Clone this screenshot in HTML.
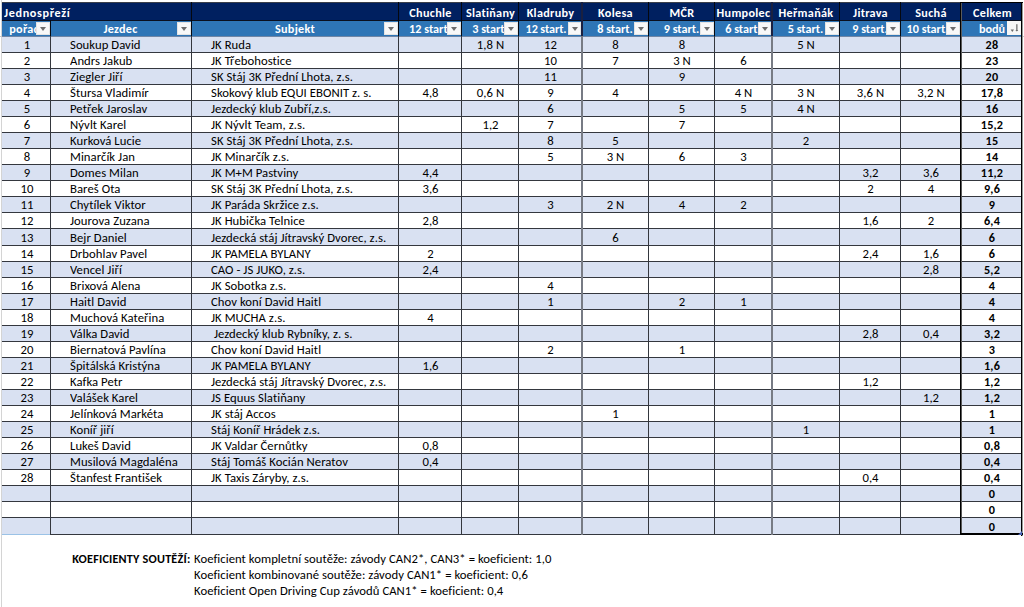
<!DOCTYPE html>
<html lang="cs"><head><meta charset="utf-8"><title>Jednospřeží</title>
<style>
*{margin:0;padding:0;box-sizing:border-box}
html,body{width:1024px;height:607px;overflow:hidden;background:#fff}
#p{position:relative;width:1024px;height:607px;overflow:hidden;background:#fff;font-family:Carlito,"Liberation Sans",Arial,sans-serif;font-size:12.7px;letter-spacing:0.05px;color:#000;font-variant-ligatures:none;font-feature-settings:"liga" 0,"clig" 0}
#p div{position:absolute}
.t{white-space:nowrap;overflow:hidden;line-height:16px;height:18px;padding-top:1px}
.c{text-align:center;padding-left:2px}
.b{font-weight:bold;font-size:12.2px;letter-spacing:0.2px}
.w{color:#fff;letter-spacing:0.3px}
.hl{height:1px;background:#34373e}
.vl{width:1px;background:#34373e}
#p.nc{font-family:"Liberation Sans",Arial,sans-serif;font-size:11.25px}
#p.nc .b{font-size:10.6px !important}
.dd{width:14px;height:13px;background:#f8f8f8;border:1px solid #e4e4e4}
.dd::after{content:"";position:absolute;left:3px;top:4px;border-left:3.5px solid transparent;border-right:3.5px solid transparent;border-top:4px solid #6d6d6d}
</style></head><body><div id="p">

<div style="left:1px;top:0;width:1px;height:607px;background:#d4d4d4"></div>
<div style="left:0;top:36px;width:2px;height:1px;background:#c8c8c8"></div>
<div style="left:1022px;top:36px;width:2px;height:1px;background:#c8c8c8"></div>
<div style="left:2px;top:2px;width:1020px;height:1px;background:#3a3f4a"></div>
<div style="left:2px;top:3px;width:1020px;height:17px;background:#002060"></div>
<div style="left:2px;top:20px;width:1020px;height:1px;background:#0a0f1e"></div>
<div style="left:2px;top:21px;width:1020px;height:15px;background:#2E75B6"></div>
<div style="left:2px;top:36px;width:1020px;height:16px;background:#D9E1F2"></div>
<div style="left:2px;top:52px;width:1020px;height:16px;background:#fff"></div>
<div style="left:2px;top:68px;width:1020px;height:16px;background:#D9E1F2"></div>
<div style="left:2px;top:84px;width:1020px;height:16px;background:#fff"></div>
<div style="left:2px;top:100px;width:1020px;height:16px;background:#D9E1F2"></div>
<div style="left:2px;top:116px;width:1020px;height:16px;background:#fff"></div>
<div style="left:2px;top:132px;width:1020px;height:16px;background:#D9E1F2"></div>
<div style="left:2px;top:148px;width:1020px;height:16px;background:#fff"></div>
<div style="left:2px;top:164px;width:1020px;height:16px;background:#D9E1F2"></div>
<div style="left:2px;top:180px;width:1020px;height:16px;background:#fff"></div>
<div style="left:2px;top:196px;width:1020px;height:16px;background:#D9E1F2"></div>
<div style="left:2px;top:212px;width:1020px;height:16px;background:#fff"></div>
<div style="left:2px;top:228px;width:1020px;height:17px;background:#D9E1F2"></div>
<div style="left:2px;top:245px;width:1020px;height:16px;background:#fff"></div>
<div style="left:2px;top:261px;width:1020px;height:16px;background:#D9E1F2"></div>
<div style="left:2px;top:277px;width:1020px;height:16px;background:#fff"></div>
<div style="left:2px;top:293px;width:1020px;height:16px;background:#D9E1F2"></div>
<div style="left:2px;top:309px;width:1020px;height:16px;background:#fff"></div>
<div style="left:2px;top:325px;width:1020px;height:16px;background:#D9E1F2"></div>
<div style="left:2px;top:341px;width:1020px;height:16px;background:#fff"></div>
<div style="left:2px;top:357px;width:1020px;height:16px;background:#D9E1F2"></div>
<div style="left:2px;top:373px;width:1020px;height:16px;background:#fff"></div>
<div style="left:2px;top:389px;width:1020px;height:16px;background:#D9E1F2"></div>
<div style="left:2px;top:405px;width:1020px;height:16px;background:#fff"></div>
<div style="left:2px;top:421px;width:1020px;height:16px;background:#D9E1F2"></div>
<div style="left:2px;top:437px;width:1020px;height:16px;background:#fff"></div>
<div style="left:2px;top:453px;width:1020px;height:16px;background:#D9E1F2"></div>
<div style="left:2px;top:469px;width:1020px;height:16px;background:#fff"></div>
<div style="left:2px;top:485px;width:1020px;height:16px;background:#D9E1F2"></div>
<div style="left:2px;top:501px;width:1020px;height:16px;background:#fff"></div>
<div style="left:2px;top:517px;width:1020px;height:17px;background:#D9E1F2"></div>
<div style="left:2px;top:36px;width:1020px;height:1px;background:#6f86a6"></div>
<div class="hl" style="left:2px;top:52px;width:1020px"></div>
<div class="hl" style="left:2px;top:68px;width:1020px"></div>
<div class="hl" style="left:2px;top:84px;width:1020px"></div>
<div class="hl" style="left:2px;top:100px;width:1020px"></div>
<div class="hl" style="left:2px;top:116px;width:1020px"></div>
<div class="hl" style="left:2px;top:132px;width:1020px"></div>
<div class="hl" style="left:2px;top:148px;width:1020px"></div>
<div class="hl" style="left:2px;top:164px;width:1020px"></div>
<div class="hl" style="left:2px;top:180px;width:1020px"></div>
<div class="hl" style="left:2px;top:196px;width:1020px"></div>
<div class="hl" style="left:2px;top:212px;width:1020px"></div>
<div class="hl" style="left:2px;top:228px;width:1020px"></div>
<div class="hl" style="left:2px;top:245px;width:1020px"></div>
<div class="hl" style="left:2px;top:261px;width:1020px"></div>
<div class="hl" style="left:2px;top:277px;width:1020px"></div>
<div class="hl" style="left:2px;top:293px;width:1020px"></div>
<div class="hl" style="left:2px;top:309px;width:1020px"></div>
<div class="hl" style="left:2px;top:325px;width:1020px"></div>
<div class="hl" style="left:2px;top:341px;width:1020px"></div>
<div class="hl" style="left:2px;top:357px;width:1020px"></div>
<div class="hl" style="left:2px;top:373px;width:1020px"></div>
<div class="hl" style="left:2px;top:389px;width:1020px"></div>
<div class="hl" style="left:2px;top:405px;width:1020px"></div>
<div class="hl" style="left:2px;top:421px;width:1020px"></div>
<div class="hl" style="left:2px;top:437px;width:1020px"></div>
<div class="hl" style="left:2px;top:453px;width:1020px"></div>
<div class="hl" style="left:2px;top:469px;width:1020px"></div>
<div class="hl" style="left:2px;top:485px;width:1020px"></div>
<div class="hl" style="left:2px;top:501px;width:1020px"></div>
<div class="hl" style="left:2px;top:517px;width:1020px"></div>
<div style="left:2px;top:534px;width:48px;height:1px;background:#9BC2E6"></div>
<div class="hl" style="left:50px;top:534px;width:972px"></div>
<div class="vl" style="left:50px;top:20px;height:515px"></div>
<div style="left:50px;top:20px;width:1px;height:16px;background:#05080f"></div>
<div class="vl" style="left:191px;top:2px;height:533px"></div>
<div style="left:191px;top:2px;width:1px;height:34px;background:#05080f"></div>
<div class="vl" style="left:398px;top:2px;height:533px"></div>
<div style="left:398px;top:2px;width:1px;height:34px;background:#05080f"></div>
<div class="vl" style="left:461px;top:2px;height:533px"></div>
<div style="left:461px;top:2px;width:1px;height:34px;background:#05080f"></div>
<div class="vl" style="left:518px;top:2px;height:533px"></div>
<div style="left:518px;top:2px;width:1px;height:34px;background:#05080f"></div>
<div style="left:581px;top:2px;width:2px;height:533px;background:#777b84"></div>
<div style="left:581px;top:2px;width:2px;height:34px;background:#1a2040"></div>
<div class="vl" style="left:648px;top:2px;height:533px"></div>
<div style="left:648px;top:2px;width:1px;height:34px;background:#05080f"></div>
<div class="vl" style="left:714px;top:2px;height:533px"></div>
<div style="left:714px;top:2px;width:1px;height:34px;background:#05080f"></div>
<div style="left:771px;top:2px;width:2px;height:533px;background:#777b84"></div>
<div style="left:771px;top:2px;width:2px;height:34px;background:#1a2040"></div>
<div class="vl" style="left:839px;top:2px;height:533px"></div>
<div style="left:839px;top:2px;width:1px;height:34px;background:#05080f"></div>
<div class="vl" style="left:900px;top:2px;height:533px"></div>
<div style="left:900px;top:2px;width:1px;height:34px;background:#05080f"></div>
<div class="t b w" style="left:4px;top:3px;width:180px;font-size:12.2px;letter-spacing:0.65px;line-height:17px;height:17px;padding-top:1px">Jednospřeží</div>
<div class="t b w c" style="left:398px;top:3px;width:63px;line-height:17px;height:17px">Chuchle</div>
<div class="t b w c" style="left:461px;top:3px;width:57px;line-height:17px;height:17px">Slatiňany</div>
<div class="t b w c" style="left:518px;top:3px;width:63px;line-height:17px;height:17px">Kladruby</div>
<div class="t b w c" style="left:581px;top:3px;width:67px;line-height:17px;height:17px">Kolesa</div>
<div class="t b w c" style="left:648px;top:3px;width:66px;line-height:17px;height:17px">MČR</div>
<div class="t b w c" style="left:714px;top:3px;width:57px;line-height:17px;height:17px">Humpolec</div>
<div class="t b w c" style="left:771px;top:3px;width:68px;line-height:17px;height:17px">Heřmaňák</div>
<div class="t b w c" style="left:839px;top:3px;width:61px;line-height:17px;height:17px">Jitrava</div>
<div class="t b w c" style="left:900px;top:3px;width:60px;line-height:17px;height:17px">Suchá</div>
<div class="t b w c" style="left:961px;top:3px;width:61px;line-height:17px;height:17px">Celkem</div>
<div class="t b w c" style="left:1.5px;top:20px;width:48px;line-height:16px;">pořadí</div>
<div class="t b w c" style="left:49px;top:20px;width:141px;line-height:16px;">Jezdec</div>
<div class="t b w c" style="left:190.5px;top:20px;width:207px;line-height:16px;">Subjekt</div>
<div class="t b w c" style="left:397.5px;top:20px;width:63px;line-height:16px;letter-spacing:0;">12 start.</div>
<div class="t b w c" style="left:460.5px;top:20px;width:57px;line-height:16px;letter-spacing:0;">3 start.</div>
<div class="t b w c" style="left:513.5px;top:20px;width:63px;line-height:16px;letter-spacing:-0.1px;">12 start.</div>
<div class="t b w c" style="left:580.5px;top:20px;width:67px;line-height:16px;letter-spacing:0;">8 start.</div>
<div class="t b w c" style="left:647.5px;top:20px;width:66px;line-height:16px;letter-spacing:0;">9 start.</div>
<div class="t b w c" style="left:713.5px;top:20px;width:57px;line-height:16px;letter-spacing:0;">6 start.</div>
<div class="t b w c" style="left:770.5px;top:20px;width:68px;line-height:16px;letter-spacing:0;">5 start.</div>
<div class="t b w c" style="left:838.5px;top:20px;width:61px;line-height:16px;letter-spacing:0;">9 start.</div>
<div class="t b w c" style="left:896.5px;top:20px;width:60px;line-height:16px;letter-spacing:0;">10 start.</div>
<div class="t b w c" style="left:960.5px;top:20px;width:61px;line-height:16px;letter-spacing:0;">bodů</div>
<div class="dd" style="left:36px;top:22px"></div>
<div class="dd" style="left:177px;top:22px"></div>
<div class="dd" style="left:384px;top:22px"></div>
<div class="dd" style="left:447px;top:22px"></div>
<div class="dd" style="left:504px;top:22px"></div>
<div class="dd" style="left:568px;top:22px;width:13px"></div>
<div class="dd" style="left:634px;top:22px"></div>
<div class="dd" style="left:700px;top:22px"></div>
<div class="dd" style="left:758px;top:22px;width:13px"></div>
<div class="dd" style="left:825px;top:22px"></div>
<div class="dd" style="left:886px;top:22px"></div>
<div class="dd" style="left:946px;top:22px"></div>
<div class="dd2" style="left:1007px;top:21px;width:14px;height:14px;background:#f6f6f6"><svg width="14" height="14" viewBox="0 0 14 14" style="position:absolute;left:0;top:0"><path d="M3.6 8.6 L7 8.6 L5.3 11 Z" fill="#6b6b6b"/><rect x="9.2" y="3.2" width="1.3" height="6.6" fill="#707070"/><path d="M8.4 9 L11.3 9 L9.85 10.6 Z" fill="#6b6b6b"/></svg></div>
<div class="t c" style="left:2px;top:36px;width:48px">1</div>
<div class="t" style="left:70px;top:36px;width:120px">Soukup David</div>
<div class="t" style="left:211px;top:36px;width:186px">JK Ruda</div>
<div class="t c" style="left:461px;top:36px;width:57px">1,8 N</div>
<div class="t c" style="left:518px;top:36px;width:63px">12</div>
<div class="t c" style="left:581px;top:36px;width:67px">8</div>
<div class="t c" style="left:648px;top:36px;width:66px">8</div>
<div class="t c" style="left:771px;top:36px;width:68px">5 N</div>
<div class="t c b" style="left:961px;top:36px;width:60px">28</div>
<div class="t c" style="left:2px;top:52px;width:48px">2</div>
<div class="t" style="left:70px;top:52px;width:120px">Andrs Jakub</div>
<div class="t" style="left:211px;top:52px;width:186px">JK Třebohostice</div>
<div class="t c" style="left:518px;top:52px;width:63px">10</div>
<div class="t c" style="left:581px;top:52px;width:67px">7</div>
<div class="t c" style="left:648px;top:52px;width:66px">3 N</div>
<div class="t c" style="left:714px;top:52px;width:57px">6</div>
<div class="t c b" style="left:961px;top:52px;width:60px">23</div>
<div class="t c" style="left:2px;top:68px;width:48px">3</div>
<div class="t" style="left:70px;top:68px;width:120px">Ziegler Jiří</div>
<div class="t" style="left:211px;top:68px;width:186px">SK Stáj 3K Přední Lhota, z.s.</div>
<div class="t c" style="left:518px;top:68px;width:63px">11</div>
<div class="t c" style="left:648px;top:68px;width:66px">9</div>
<div class="t c b" style="left:961px;top:68px;width:60px">20</div>
<div class="t c" style="left:2px;top:84px;width:48px">4</div>
<div class="t" style="left:70px;top:84px;width:120px">Štursa Vladimír</div>
<div class="t" style="left:211px;top:84px;width:186px">Skokový klub EQUI EBONIT z. s.</div>
<div class="t c" style="left:398px;top:84px;width:63px">4,8</div>
<div class="t c" style="left:461px;top:84px;width:57px">0,6 N</div>
<div class="t c" style="left:518px;top:84px;width:63px">9</div>
<div class="t c" style="left:581px;top:84px;width:67px">4</div>
<div class="t c" style="left:714px;top:84px;width:57px">4 N</div>
<div class="t c" style="left:771px;top:84px;width:68px">3 N</div>
<div class="t c" style="left:839px;top:84px;width:61px">3,6 N</div>
<div class="t c" style="left:900px;top:84px;width:60px">3,2 N</div>
<div class="t c b" style="left:961px;top:84px;width:60px">17,8</div>
<div class="t c" style="left:2px;top:100px;width:48px">5</div>
<div class="t" style="left:70px;top:100px;width:120px">Petřek Jaroslav</div>
<div class="t" style="left:211px;top:100px;width:186px">Jezdecký klub Zubří,z.s.</div>
<div class="t c" style="left:518px;top:100px;width:63px">6</div>
<div class="t c" style="left:648px;top:100px;width:66px">5</div>
<div class="t c" style="left:714px;top:100px;width:57px">5</div>
<div class="t c" style="left:771px;top:100px;width:68px">4 N</div>
<div class="t c b" style="left:961px;top:100px;width:60px">16</div>
<div class="t c" style="left:2px;top:116px;width:48px">6</div>
<div class="t" style="left:70px;top:116px;width:120px">Nývlt Karel</div>
<div class="t" style="left:211px;top:116px;width:186px">JK Nývlt Team, z.s.</div>
<div class="t c" style="left:461px;top:116px;width:57px">1,2</div>
<div class="t c" style="left:518px;top:116px;width:63px">7</div>
<div class="t c" style="left:648px;top:116px;width:66px">7</div>
<div class="t c b" style="left:961px;top:116px;width:60px">15,2</div>
<div class="t c" style="left:2px;top:132px;width:48px">7</div>
<div class="t" style="left:70px;top:132px;width:120px">Kurková Lucie</div>
<div class="t" style="left:211px;top:132px;width:186px">SK Stáj 3K Přední Lhota, z.s.</div>
<div class="t c" style="left:518px;top:132px;width:63px">8</div>
<div class="t c" style="left:581px;top:132px;width:67px">5</div>
<div class="t c" style="left:771px;top:132px;width:68px">2</div>
<div class="t c b" style="left:961px;top:132px;width:60px">15</div>
<div class="t c" style="left:2px;top:148px;width:48px">8</div>
<div class="t" style="left:70px;top:148px;width:120px">Minarčík Jan</div>
<div class="t" style="left:211px;top:148px;width:186px">JK Minarčík z.s.</div>
<div class="t c" style="left:518px;top:148px;width:63px">5</div>
<div class="t c" style="left:581px;top:148px;width:67px">3 N</div>
<div class="t c" style="left:648px;top:148px;width:66px">6</div>
<div class="t c" style="left:714px;top:148px;width:57px">3</div>
<div class="t c b" style="left:961px;top:148px;width:60px">14</div>
<div class="t c" style="left:2px;top:164px;width:48px">9</div>
<div class="t" style="left:70px;top:164px;width:120px">Domes Milan</div>
<div class="t" style="left:211px;top:164px;width:186px">JK M+M Pastviny</div>
<div class="t c" style="left:398px;top:164px;width:63px">4,4</div>
<div class="t c" style="left:839px;top:164px;width:61px">3,2</div>
<div class="t c" style="left:900px;top:164px;width:60px">3,6</div>
<div class="t c b" style="left:961px;top:164px;width:60px">11,2</div>
<div class="t c" style="left:2px;top:180px;width:48px">10</div>
<div class="t" style="left:70px;top:180px;width:120px">Bareš Ota</div>
<div class="t" style="left:211px;top:180px;width:186px">SK Stáj 3K Přední Lhota, z.s.</div>
<div class="t c" style="left:398px;top:180px;width:63px">3,6</div>
<div class="t c" style="left:839px;top:180px;width:61px">2</div>
<div class="t c" style="left:900px;top:180px;width:60px">4</div>
<div class="t c b" style="left:961px;top:180px;width:60px">9,6</div>
<div class="t c" style="left:2px;top:196px;width:48px">11</div>
<div class="t" style="left:70px;top:196px;width:120px">Chytílek Viktor</div>
<div class="t" style="left:211px;top:196px;width:186px">JK Paráda Skržice z.s.</div>
<div class="t c" style="left:518px;top:196px;width:63px">3</div>
<div class="t c" style="left:581px;top:196px;width:67px">2 N</div>
<div class="t c" style="left:648px;top:196px;width:66px">4</div>
<div class="t c" style="left:714px;top:196px;width:57px">2</div>
<div class="t c b" style="left:961px;top:196px;width:60px">9</div>
<div class="t c" style="left:2px;top:212px;width:48px">12</div>
<div class="t" style="left:70px;top:212px;width:120px">Jourova Zuzana</div>
<div class="t" style="left:211px;top:212px;width:186px">JK Hubička Telnice</div>
<div class="t c" style="left:398px;top:212px;width:63px">2,8</div>
<div class="t c" style="left:839px;top:212px;width:61px">1,6</div>
<div class="t c" style="left:900px;top:212px;width:60px">2</div>
<div class="t c b" style="left:961px;top:212px;width:60px">6,4</div>
<div class="t c" style="left:2px;top:229px;width:48px">13</div>
<div class="t" style="left:70px;top:229px;width:120px">Bejr Daniel</div>
<div class="t" style="left:211px;top:229px;width:186px">Jezdecká stáj Jítravský Dvorec, z.s.</div>
<div class="t c" style="left:581px;top:229px;width:67px">6</div>
<div class="t c b" style="left:961px;top:229px;width:60px">6</div>
<div class="t c" style="left:2px;top:245px;width:48px">14</div>
<div class="t" style="left:70px;top:245px;width:120px">Drbohlav Pavel</div>
<div class="t" style="left:211px;top:245px;width:186px">JK PAMELA BYLANY</div>
<div class="t c" style="left:398px;top:245px;width:63px">2</div>
<div class="t c" style="left:839px;top:245px;width:61px">2,4</div>
<div class="t c" style="left:900px;top:245px;width:60px">1,6</div>
<div class="t c b" style="left:961px;top:245px;width:60px">6</div>
<div class="t c" style="left:2px;top:261px;width:48px">15</div>
<div class="t" style="left:70px;top:261px;width:120px">Vencel Jiří</div>
<div class="t" style="left:211px;top:261px;width:186px">CAO - JS JUKO, z.s.</div>
<div class="t c" style="left:398px;top:261px;width:63px">2,4</div>
<div class="t c" style="left:900px;top:261px;width:60px">2,8</div>
<div class="t c b" style="left:961px;top:261px;width:60px">5,2</div>
<div class="t c" style="left:2px;top:277px;width:48px">16</div>
<div class="t" style="left:70px;top:277px;width:120px">Brixová Alena</div>
<div class="t" style="left:211px;top:277px;width:186px">JK Sobotka z.s.</div>
<div class="t c" style="left:518px;top:277px;width:63px">4</div>
<div class="t c b" style="left:961px;top:277px;width:60px">4</div>
<div class="t c" style="left:2px;top:293px;width:48px">17</div>
<div class="t" style="left:70px;top:293px;width:120px">Haitl David</div>
<div class="t" style="left:211px;top:293px;width:186px">Chov koní David Haitl</div>
<div class="t c" style="left:518px;top:293px;width:63px">1</div>
<div class="t c" style="left:648px;top:293px;width:66px">2</div>
<div class="t c" style="left:714px;top:293px;width:57px">1</div>
<div class="t c b" style="left:961px;top:293px;width:60px">4</div>
<div class="t c" style="left:2px;top:309px;width:48px">18</div>
<div class="t" style="left:70px;top:309px;width:120px">Muchová Kateřina</div>
<div class="t" style="left:211px;top:309px;width:186px">JK MUCHA z.s.</div>
<div class="t c" style="left:398px;top:309px;width:63px">4</div>
<div class="t c b" style="left:961px;top:309px;width:60px">4</div>
<div class="t c" style="left:2px;top:325px;width:48px">19</div>
<div class="t" style="left:70px;top:325px;width:120px">Válka David</div>
<div class="t" style="left:211px;top:325px;width:186px"> Jezdecký klub Rybníky, z. s.</div>
<div class="t c" style="left:839px;top:325px;width:61px">2,8</div>
<div class="t c" style="left:900px;top:325px;width:60px">0,4</div>
<div class="t c b" style="left:961px;top:325px;width:60px">3,2</div>
<div class="t c" style="left:2px;top:341px;width:48px">20</div>
<div class="t" style="left:70px;top:341px;width:120px">Biernatová Pavlína</div>
<div class="t" style="left:211px;top:341px;width:186px">Chov koní David Haitl</div>
<div class="t c" style="left:518px;top:341px;width:63px">2</div>
<div class="t c" style="left:648px;top:341px;width:66px">1</div>
<div class="t c b" style="left:961px;top:341px;width:60px">3</div>
<div class="t c" style="left:2px;top:357px;width:48px">21</div>
<div class="t" style="left:70px;top:357px;width:120px">Špitálská Kristýna</div>
<div class="t" style="left:211px;top:357px;width:186px">JK PAMELA BYLANY</div>
<div class="t c" style="left:398px;top:357px;width:63px">1,6</div>
<div class="t c b" style="left:961px;top:357px;width:60px">1,6</div>
<div class="t c" style="left:2px;top:373px;width:48px">22</div>
<div class="t" style="left:70px;top:373px;width:120px">Kafka Petr</div>
<div class="t" style="left:211px;top:373px;width:186px">Jezdecká stáj Jítravský Dvorec, z.s.</div>
<div class="t c" style="left:839px;top:373px;width:61px">1,2</div>
<div class="t c b" style="left:961px;top:373px;width:60px">1,2</div>
<div class="t c" style="left:2px;top:389px;width:48px">23</div>
<div class="t" style="left:70px;top:389px;width:120px">Valášek Karel</div>
<div class="t" style="left:211px;top:389px;width:186px">JS Equus Slatiňany</div>
<div class="t c" style="left:900px;top:389px;width:60px">1,2</div>
<div class="t c b" style="left:961px;top:389px;width:60px">1,2</div>
<div class="t c" style="left:2px;top:405px;width:48px">24</div>
<div class="t" style="left:70px;top:405px;width:120px">Jelínková Markéta</div>
<div class="t" style="left:211px;top:405px;width:186px">JK stáj Accos</div>
<div class="t c" style="left:581px;top:405px;width:67px">1</div>
<div class="t c b" style="left:961px;top:405px;width:60px">1</div>
<div class="t c" style="left:2px;top:421px;width:48px">25</div>
<div class="t" style="left:70px;top:421px;width:120px">Koníř jiří</div>
<div class="t" style="left:211px;top:421px;width:186px">Stáj Koníř Hrádek z.s.</div>
<div class="t c" style="left:771px;top:421px;width:68px">1</div>
<div class="t c b" style="left:961px;top:421px;width:60px">1</div>
<div class="t c" style="left:2px;top:437px;width:48px">26</div>
<div class="t" style="left:70px;top:437px;width:120px">Lukeš David</div>
<div class="t" style="left:211px;top:437px;width:186px">JK Valdar Černůtky</div>
<div class="t c" style="left:398px;top:437px;width:63px">0,8</div>
<div class="t c b" style="left:961px;top:437px;width:60px">0,8</div>
<div class="t c" style="left:2px;top:453px;width:48px">27</div>
<div class="t" style="left:70px;top:453px;width:120px">Musilová Magdaléna</div>
<div class="t" style="left:211px;top:453px;width:186px">Stáj Tomáš Kocián Neratov</div>
<div class="t c" style="left:398px;top:453px;width:63px">0,4</div>
<div class="t c b" style="left:961px;top:453px;width:60px">0,4</div>
<div class="t c" style="left:2px;top:469px;width:48px">28</div>
<div class="t" style="left:70px;top:469px;width:120px">Štanfest František</div>
<div class="t" style="left:211px;top:469px;width:186px">JK Taxis Záryby, z.s.</div>
<div class="t c" style="left:839px;top:469px;width:61px">0,4</div>
<div class="t c b" style="left:961px;top:469px;width:60px">0,4</div>
<div class="t c b" style="left:961px;top:485px;width:60px">0</div>
<div class="t c b" style="left:961px;top:501px;width:60px">0</div>
<div class="t c b" style="left:961px;top:518px;width:60px">0</div>
<div style="left:960px;top:2px;width:1px;height:533px;background:#000"></div>
<div style="left:961px;top:2px;width:1px;height:533px;background:#5a5a5a"></div>
<div style="left:1021px;top:2px;width:1px;height:534px;background:#000"></div>
<div style="left:1022px;top:2px;width:1px;height:534px;background:#9a9a9a"></div>
<div style="left:960px;top:2px;width:63px;height:1px;background:#000"></div>
<div style="left:960px;top:533px;width:63px;height:2px;background:#000"></div>
<svg style="position:absolute;left:1018px;top:531px" width="4" height="4"><path d="M4 0 L4 4 L0 4 Z" fill="#4a62b8"/></svg>
<div class="t b" style="left:50px;top:550px;width:140.5px;text-align:right">KOEFICIENTY SOUTĚŽÍ:</div>
<div class="t" style="left:194px;top:550px;width:500px;overflow:visible">Koeficient kompletní soutěže: závody CAN2*, CAN3* = koeficient: 1,0</div>
<div class="t" style="left:194px;top:566px;width:500px;overflow:visible">Koeficient kombinované soutěže: závody CAN1* = koeficient: 0,6</div>
<div class="t" style="left:194px;top:582px;width:500px;overflow:visible">Koeficient Open Driving Cup závodů CAN1* = koeficient: 0,4</div>
</div>
<script>(function(){try{var c=document.createElement("canvas").getContext("2d");var t="Soukup David Jezdecká 12345";c.font="20px monospace";var a=c.measureText(t).width;c.font="20px Carlito, monospace";var b=c.measureText(t).width;if(Math.abs(a-b)<0.01){document.getElementById("p").className="nc";}}catch(e){}})();</script>
</body></html>
